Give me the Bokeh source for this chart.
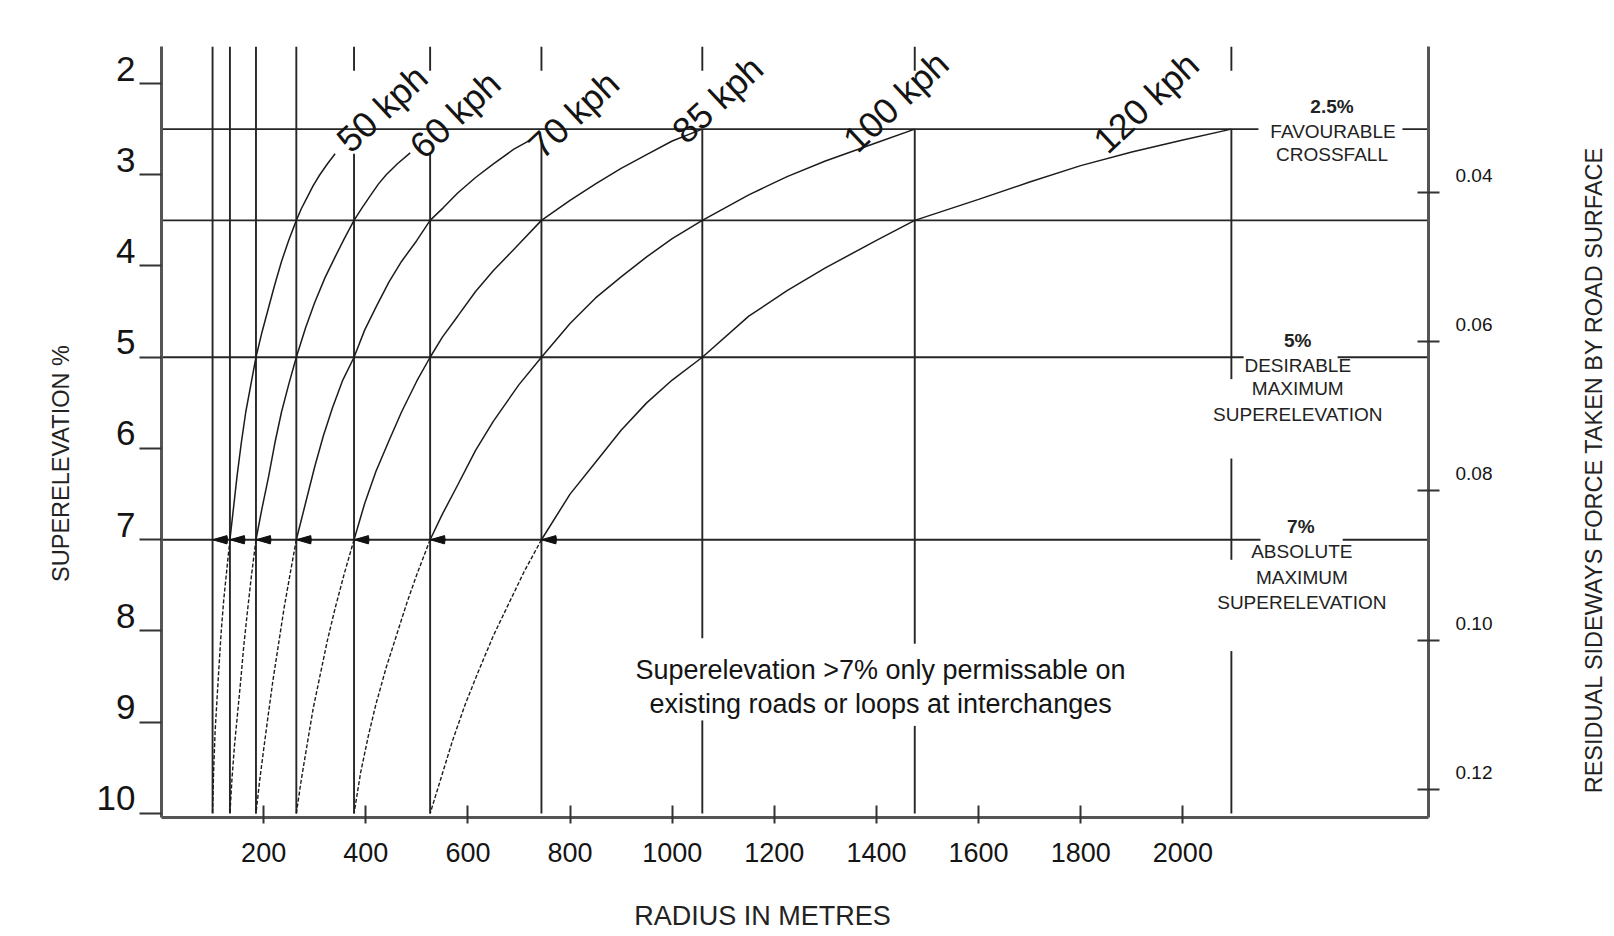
import math
from bokeh.plotting import figure
from bokeh.layouts import row, column
from bokeh.models import Range1d, LinearAxis, FixedTicker, NumeralTickFormatter
from bokeh.core.properties import value
from bokeh.embed import file_html
from bokeh.resources import INLINE

# ---------------- data ----------------
X_TICKS = [200, 400, 600, 800, 1000, 1200, 1400, 1600, 1800, 2000]
Y_TICKS = [2, 3, 4, 5, 6, 7, 8, 9, 10]
FORCE_TICKS = [0.04, 0.06, 0.08, 0.10, 0.12]

RADII = [100, 134, 185, 264, 377, 526, 744, 1059, 1475, 2095]   # vertical radius lines (m)
LEVELS = [2.5, 3.5, 5.0, 7.0]                                   # horizontal superelevation lines (%)

SPEEDS = ["50 kph", "60 kph", "70 kph", "85 kph", "100 kph", "120 kph"]

# curves: solid part (<= 7 %) and dashed part (>= 7 %)
R50 = [340, 325, 310, 297, 285, 274, 264, 249, 235, 222, 210, 197, 185, 175, 165, 156, 148, 141, 134]
E50 = [2.77, 2.88, 3.0, 3.12, 3.25, 3.37, 3.5, 3.72, 3.95, 4.2, 4.45, 4.72, 5.0, 5.3, 5.6, 5.95, 6.3, 6.65, 7.0]
R50_LOW = [134, 128, 122, 117, 113, 109, 105, 102, 100]
E50_LOW = [7.0, 7.32, 7.65, 8.0, 8.35, 8.72, 9.1, 9.55, 10.0]

R60 = [487, 462, 440, 425, 410, 393, 377, 358, 340, 320, 300, 282, 264, 249, 235, 222, 210, 197, 185]
E60 = [2.76, 2.88, 3.0, 3.1, 3.22, 3.36, 3.5, 3.7, 3.9, 4.13, 4.4, 4.68, 5.0, 5.3, 5.6, 5.94, 6.3, 6.65, 7.0]
R60_LOW = [185, 176, 168, 161, 155, 149, 143, 138, 134]
E60_LOW = [7.0, 7.4, 7.8, 8.17, 8.55, 8.9, 9.25, 9.62, 10.0]

R70 = [722, 690, 650, 615, 580, 552, 526, 500, 470, 445, 420, 398, 377, 355, 335, 317, 300, 282, 264]
E70 = [2.62, 2.72, 2.88, 3.03, 3.2, 3.36, 3.5, 3.72, 3.95, 4.18, 4.45, 4.7, 5.0, 5.25, 5.55, 5.86, 6.2, 6.6, 7.0]
R70_LOW = [264, 252, 240, 229, 218, 209, 200, 192, 185]
E70_LOW = [7.0, 7.37, 7.75, 8.15, 8.55, 8.92, 9.3, 9.65, 10.0]

R85 = [1059, 1000, 950, 900, 850, 800, 744, 700, 650, 615, 580, 550, 526, 500, 470, 445, 420, 398, 377]
E85 = [2.5, 2.63, 2.78, 2.93, 3.1, 3.28, 3.5, 3.76, 4.05, 4.28, 4.55, 4.78, 5.0, 5.26, 5.6, 5.92, 6.25, 6.6, 7.0]
R85_LOW = [377, 358, 340, 325, 310, 297, 285, 274, 264]
E85_LOW = [7.0, 7.37, 7.75, 8.1, 8.5, 8.85, 9.25, 9.62, 10.0]

R100 = [1475, 1400, 1300, 1225, 1150, 1059, 1000, 950, 900, 850, 800, 744, 700, 650, 615, 580, 550, 526]
E100 = [2.5, 2.65, 2.85, 3.02, 3.22, 3.5, 3.7, 3.9, 4.12, 4.35, 4.63, 5.0, 5.3, 5.7, 6.02, 6.4, 6.72, 7.0]
R100_LOW = [526, 500, 480, 460, 440, 420, 405, 390, 377]
E100_LOW = [7.0, 7.38, 7.7, 8.05, 8.4, 8.8, 9.15, 9.55, 10.0]

R120 = [2095, 2000, 1900, 1800, 1700, 1600, 1475, 1400, 1300, 1225, 1150, 1059, 1000, 950, 900, 850, 800, 744]
E120 = [2.5, 2.62, 2.75, 2.9, 3.08, 3.27, 3.5, 3.72, 4.02, 4.27, 4.55, 5.0, 5.25, 5.5, 5.8, 6.15, 6.5, 7.0]
R120_LOW = [744, 710, 680, 650, 620, 595, 570, 548, 526]
E120_LOW = [7.0, 7.35, 7.7, 8.05, 8.45, 8.8, 9.2, 9.6, 10.0]

NOTE_LINES = ["Superelevation >7% only permissable on",
              "existing roads or loops at interchanges"]
PCT_TEXT = ["2.5%", "5%", "7%"]
NOTE_TEXT = ["FAVOURABLE", "CROSSFALL", "DESIRABLE", "MAXIMUM", "SUPERELEVATION",
             "ABSOLUTE", "MAXIMUM", "SUPERELEVATION"]
X_TITLE = "RADIUS IN METRES"
Y_TITLE = "SUPERELEVATION %"
Y2_TITLE = "RESIDUAL SIDEWAYS FORCE TAKEN BY ROAD SURFACE"

# ---------------- layout (positions / styles) ----------------
X_START, X_END = 0, 2481
E_TOP, E_BOTTOM = 1.5945, 10.044
F_TOP, F_BOTTOM = 0.02051, 0.12372
LAB_SHIFT_E = 15 / 91.25
LAB_SHIFT_F = 17 / 7470.0

FONT = "Liberation Sans"
INK = "#141414"
LINE = "#262626"
AXIS = "#555555"

LEFT_W, MAIN_W, RIGHT_W = 80, 1480, 54
TOP_H, BOTTOM_H = 880, 56

p = figure(width=MAIN_W, height=TOP_H, output_backend="svg", toolbar_location=None,
           x_range=Range1d(X_START, X_END), y_range=Range1d(E_BOTTOM, E_TOP),
           min_border_left=81, min_border_right=132, min_border_top=46, min_border_bottom=63)
p.outline_line_color = None
p.xgrid.visible = False
p.ygrid.visible = False
p.background_fill_color = "white"
p.border_fill_color = "white"

p.extra_y_ranges = {
    "ylab": Range1d(E_BOTTOM + LAB_SHIFT_E, E_TOP + LAB_SHIFT_E),
    "force": Range1d(F_BOTTOM, F_TOP),
    "flab": Range1d(F_BOTTOM + LAB_SHIFT_F, F_TOP + LAB_SHIFT_F),
}

# bottom axis
xa = p.xaxis[0]
xa.ticker = FixedTicker(ticks=X_TICKS)
xa.major_tick_in = 12
xa.major_tick_out = 6
xa.minor_tick_in = 0
xa.minor_tick_out = 0
xa.axis_line_width = 3
xa.axis_line_color = AXIS
xa.major_tick_line_width = 2
xa.major_tick_line_color = "#333333"
xa.major_label_text_font = FONT
xa.major_label_text_font_size = "27px"
xa.major_label_text_color = INK
xa.major_label_standoff = 19

# left axis: ticks only
ya = p.yaxis[0]
ya.ticker = FixedTicker(ticks=Y_TICKS)
ya.major_tick_in = 0
ya.major_tick_out = 22
ya.minor_tick_in = 0
ya.minor_tick_out = 0
ya.axis_line_width = 3
ya.axis_line_color = AXIS
ya.major_tick_line_width = 2
ya.major_tick_line_color = "#333333"
ya.major_label_overrides = {t: "" for t in Y_TICKS}
ya.major_label_standoff = 0

# left axis: labels (sitting just above their ticks)
yl = LinearAxis(y_range_name="ylab", ticker=FixedTicker(ticks=Y_TICKS),
                major_tick_in=0, major_tick_out=0, minor_tick_in=0, minor_tick_out=0,
                axis_line_color=None, major_tick_line_color=None, minor_tick_line_color=None,
                major_label_standoff=4, major_label_text_font=FONT,
                major_label_text_font_size="35px", major_label_text_color=INK)
p.add_layout(yl, "left")

# right axis: ticks
ra = LinearAxis(y_range_name="force", ticker=FixedTicker(ticks=FORCE_TICKS),
                major_tick_in=11, major_tick_out=11, minor_tick_in=0, minor_tick_out=0,
                axis_line_width=3, axis_line_color=AXIS, major_tick_line_width=2,
                major_tick_line_color="#333333", major_label_standoff=0)
ra.major_label_overrides = {t: "" for t in FORCE_TICKS}
p.add_layout(ra, "right")

# right axis: labels
rl = LinearAxis(y_range_name="flab", ticker=FixedTicker(ticks=FORCE_TICKS),
                formatter=NumeralTickFormatter(format="0.00"),
                major_tick_in=0, major_tick_out=0, minor_tick_in=0, minor_tick_out=0,
                axis_line_color=None, major_tick_line_color=None, minor_tick_line_color=None,
                major_label_standoff=16, major_label_text_font=FONT,
                major_label_text_font_size="19px", major_label_text_color=INK)
p.add_layout(rl, "right")

# ---------------- grid of radius / superelevation lines ----------------
V_SPANS = [
    [(E_TOP, 10.0)],
    [(E_TOP, 10.0)],
    [(E_TOP, 10.0)],
    [(E_TOP, 10.0)],
    [(E_TOP, 1.86), (2.77, 10.0)],
    [(E_TOP, 1.86), (2.76, 10.0)],
    [(E_TOP, 1.86), (2.62, 10.0)],
    [(E_TOP, 1.86), (2.5, 8.08), (8.98, 10.0)],
    [(E_TOP, 1.86), (2.5, 8.14), (9.04, 10.0)],
    [(E_TOP, 1.86), (2.5, 5.24), (6.11, 7.22), (8.22, 10.0)],
]
H_SPANS = [
    [(X_START, 2148), (2430, X_END)],
    [(X_START, X_END)],
    [(X_START, 2119), (2303, X_END)],
    [(X_START, 2152), (2313, X_END)],
]
vx0, vy0, vx1, vy1 = [], [], [], []
for r, spans in zip(RADII, V_SPANS):
    for a, b in spans:
        vx0.append(r); vx1.append(r); vy0.append(a); vy1.append(b)
for e, spans in zip(LEVELS, H_SPANS):
    for a, b in spans:
        vx0.append(a); vx1.append(b); vy0.append(e); vy1.append(e)
p.segment(x0=vx0, y0=vy0, x1=vx1, y1=vy1, line_color=LINE, line_width=1.9)

# ---------------- speed curves ----------------
solid_r = [R50, R60, R70, R85, R100, R120]
solid_e = [E50, E60, E70, E85, E100, E120]
low_r = [R50_LOW, R60_LOW, R70_LOW, R85_LOW, R100_LOW, R120_LOW]
low_e = [E50_LOW, E60_LOW, E70_LOW, E85_LOW, E100_LOW, E120_LOW]
p.multi_line(xs=solid_r, ys=solid_e, line_color="#1c1c1c", line_width=1.5)
p.multi_line(xs=low_r, ys=low_e, line_color="#1c1c1c", line_width=1.4, line_dash="4 2")

# arrow heads on the 7 % line (pointing left at each radius line)
arrow_r = [r for r in RADII if r <= R120_LOW[0]]
p.wedge(x=arrow_r, y=[LEVELS[3]] * len(arrow_r), radius=15, radius_units="screen",
        start_angle=-0.28, end_angle=0.28, fill_color="#111111", line_color="#111111")

# ---------------- texts ----------------
LABEL_R = [432, 575, 807, 1089, 1438, 1928]
LABEL_E = [2.274, 2.34, 2.34, 2.175, 2.197, 2.208]
p.text(x=LABEL_R, y=LABEL_E, text=SPEEDS, angle=0.75,
       text_font=value(FONT), text_font_size=value("36px"), text_color=INK,
       text_align="center", text_baseline="middle")

p.text(x=[1408, 1408], y=[8.433, 8.805], text=NOTE_LINES,
       text_font=value(FONT), text_font_size=value("27px"), text_color=INK,
       text_align="center", text_baseline="middle")

p.text(x=[2292, 2225, 2231], y=[2.252, 4.816, 6.85], text=PCT_TEXT,
       text_font=value(FONT), text_font_size=value("19px"), text_font_style="bold",
       text_color="#222222", text_align="center", text_baseline="middle")
p.text(x=[2294, 2292, 2225, 2225, 2225, 2233, 2233, 2233],
       y=[2.526, 2.778, 5.09, 5.342, 5.627, 7.13, 7.41, 7.69], text=NOTE_TEXT,
       text_font=value(FONT), text_font_size=value("19px"),
       text_color="#222222", text_align="center", text_baseline="middle")


# ---------------- title strips (page-pixel coordinates) ----------------
def strip(width, height, x0, x1, ytop, ybot):
    f = figure(width=width, height=height, output_backend="svg", toolbar_location=None,
               x_range=Range1d(x0, x1), y_range=Range1d(ybot, ytop),
               x_axis_type=None, y_axis_type=None, min_border=0)
    f.outline_line_color = None
    f.background_fill_color = "white"
    f.border_fill_color = "white"
    return f


left = strip(LEFT_W, TOP_H, 0, LEFT_W, 0, TOP_H)
left.text(x=[60], y=[476], text=[Y_TITLE], angle=math.pi / 2,
          text_font=value(FONT), text_font_size=value("23.5px"), text_color="#222222",
          text_align="center", text_baseline="middle")

right = strip(RIGHT_W, TOP_H, LEFT_W + MAIN_W, LEFT_W + MAIN_W + RIGHT_W, 0, TOP_H)
right.text(x=[1593], y=[483], text=[Y2_TITLE], angle=math.pi / 2,
           text_font=value(FONT), text_font_size=value("23.5px"), text_color="#222222",
           text_align="center", text_baseline="middle")

bottom = strip(LEFT_W + MAIN_W + RIGHT_W, BOTTOM_H, 0, LEFT_W + MAIN_W + RIGHT_W,
               TOP_H, TOP_H + BOTTOM_H)
bottom.text(x=[762], y=[915], text=[X_TITLE],
            text_font=value(FONT), text_font_size=value("27px"), text_color="#222222",
            text_align="center", text_baseline="middle")

layout = column(row(left, p, right, spacing=0), bottom, spacing=0)

open("out.html", "w").write(file_html(layout, INLINE))
